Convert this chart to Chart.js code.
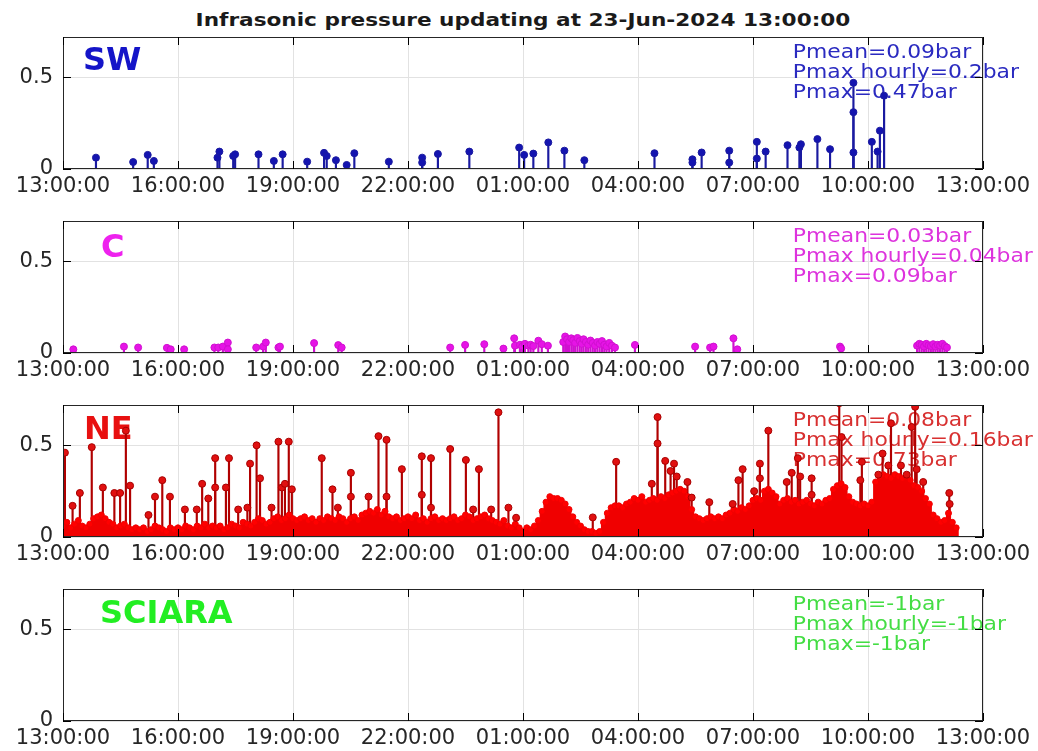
<!DOCTYPE html>
<html>
<head>
<meta charset="utf-8">
<script src="https://cdn.jsdelivr.net/npm/chart.js@4.4.1/dist/chart.umd.min.js"></script>
<style>
  body { margin: 0; background: #fff; width: 1038px; height: 751px; position: relative; overflow: hidden; }
  #title { position: absolute; left: 63px; width: 920px; top: 9px; text-align: center;
           font: bold 18px "DejaVu Sans"; color: #1a1a1a; transform: scaleX(1.2); transform-origin: center; line-height: 22px; }
  canvas { position: absolute; left: 0; }
</style>
</head>
<body>
<div id="title">Infrasonic pressure updating at 23-Jun-2024 13:00:00</div>
<canvas id="swChart" width="1038" height="189" style="top:14px"></canvas>
<canvas id="cChart" width="1038" height="189" style="top:198px"></canvas>
<canvas id="neChart" width="1038" height="189" style="top:382px"></canvas>
<canvas id="sciaraChart" width="1038" height="189" style="top:566px"></canvas>
<script>
// axes ------------------------------------------------------------
const xTickHours = [0, 3, 6, 9, 12, 15, 18, 21, 24];   // hours after 13:00 on 22-Jun
const xTickLabels = ['13:00:00', '16:00:00', '19:00:00', '22:00:00', '01:00:00',
                     '04:00:00', '07:00:00', '10:00:00', '13:00:00'];
const yTickValues = [0, 0.5];
const yTickLabels = ['0', '0.5'];

// SW station (bar) ------------------------------------------------
const swHours = [0.86, 1.83, 2.21, 2.37, 4.03, 4.08, 4.44, 4.49, 5.10, 5.50, 5.73, 6.37, 6.81, 6.88,
  7.12, 7.40, 7.60, 8.50, 9.37, 9.37, 9.78, 10.60, 11.90, 12.03, 12.27, 12.66, 13.08, 13.60, 15.43,
  16.42, 16.42, 16.66, 17.38, 17.38, 18.10, 18.10, 18.33, 18.90, 19.21, 19.25, 19.68, 20.01, 20.62,
  20.62, 20.62, 21.10, 21.25, 21.31, 21.42];
const swValues = [0.062, 0.038, 0.077, 0.044, 0.062, 0.095, 0.071, 0.080, 0.080, 0.044, 0.080, 0.040, 0.088, 0.071,
  0.048, 0.022, 0.086, 0.040, 0.062, 0.035, 0.082, 0.095, 0.117, 0.077, 0.084, 0.145, 0.100, 0.048, 0.086,
  0.053, 0.035, 0.090, 0.100, 0.035, 0.148, 0.057, 0.095, 0.130, 0.117, 0.135, 0.163, 0.108, 0.470,
  0.310, 0.090, 0.148, 0.095, 0.209, 0.400];
const swStats = ['Pmean=0.09bar', 'Pmax hourly=0.2bar', 'Pmax=0.47bar'];

// C station (bar) -------------------------------------------------
const cHours = [0.27, 1.59, 1.96, 2.71, 2.81, 3.16, 3.95, 4.05, 4.17, 4.30,
  4.30, 5.04, 5.22, 5.29, 5.62, 5.66, 6.55, 7.18, 7.27, 10.10,
  10.49, 10.99, 11.49, 11.77, 11.79, 11.92, 11.98, 12.05, 12.14, 12.20,
  12.27, 12.40, 12.49, 12.65, 13.05, 13.10, 13.15, 13.20, 13.26, 13.31,
  13.36, 13.42, 13.48, 13.53, 13.58, 13.64, 13.70, 13.76, 13.82, 13.88,
  13.94, 14.00, 14.06, 14.12, 14.18, 14.25, 14.32, 14.40, 14.92, 16.49,
  16.88, 16.97, 17.49, 17.59, 20.27, 20.30, 22.28, 22.34, 22.40, 22.46,
  22.52, 22.58, 22.64, 22.70, 22.76, 22.82, 22.88, 22.94, 23.00, 23.06];
const cValues = [0.020, 0.035, 0.030, 0.028, 0.020, 0.020, 0.030, 0.030, 0.035, 0.057,
  0.020, 0.030, 0.035, 0.057, 0.030, 0.035, 0.054, 0.043, 0.030, 0.030,
  0.044, 0.048, 0.024, 0.080, 0.040, 0.045, 0.035, 0.050, 0.040, 0.045,
  0.038, 0.067, 0.048, 0.040, 0.060, 0.090, 0.075, 0.060, 0.080, 0.070,
  0.055, 0.082, 0.065, 0.050, 0.075, 0.060, 0.045, 0.068, 0.055, 0.040,
  0.060, 0.050, 0.065, 0.045, 0.035, 0.055, 0.040, 0.030, 0.044, 0.035,
  0.030, 0.035, 0.080, 0.020, 0.035, 0.025, 0.040, 0.050, 0.045, 0.035,
  0.050, 0.042, 0.038, 0.048, 0.035, 0.045, 0.040, 0.050, 0.038, 0.030];
const cStats = ['Pmean=0.03bar', 'Pmax hourly=0.04bar', 'Pmax=0.09bar'];

// NE station (bar) - continuous background level + isolated spikes
const neBaseHours = [
  0.0, 0.1, 0.2, 0.3, 0.4, 0.5, 0.6, 0.7, 0.8, 0.9, 1.0, 1.1, 1.2, 1.3, 1.4, 1.5, 1.6, 1.7, 1.8, 1.9,
  2.0, 2.1, 2.2, 2.3, 2.4, 2.5, 2.6, 2.7, 2.8, 2.9, 3.0, 3.1, 3.2, 3.3, 3.4, 3.5, 3.6, 3.7, 3.8, 3.9,
  4.0, 4.1, 4.2, 4.3, 4.4, 4.5, 4.6, 4.7, 4.8, 4.9, 5.0, 5.1, 5.2, 5.3, 5.4, 5.5, 5.6, 5.7, 5.8, 5.9,
  6.0, 6.1, 6.2, 6.3, 6.4, 6.5, 6.6, 6.7, 6.8, 6.9, 7.0, 7.1, 7.2, 7.3, 7.4, 7.5, 7.6, 7.7, 7.8, 7.9,
  8.0, 8.1, 8.2, 8.3, 8.4, 8.5, 8.6, 8.7, 8.8, 8.9, 9.0, 9.1, 9.2, 9.3, 9.4, 9.5, 9.6, 9.7, 9.8, 9.9,
  10.0, 10.1, 10.2, 10.3, 10.4, 10.5, 10.6, 10.7, 10.8, 10.9, 11.0, 11.1, 11.2, 11.3, 11.4, 11.5, 11.6, 11.7, 11.8, 11.9,
  12.0, 12.1, 12.2, 12.3, 12.4, 12.5, 12.6, 12.7, 12.8, 12.9, 13.0, 13.1, 13.2, 13.3, 13.4, 13.5, 13.6, 13.7, 13.8, 13.9,
  14.0, 14.1, 14.2, 14.3, 14.4, 14.5, 14.6, 14.7, 14.8, 14.9, 15.0, 15.1, 15.2, 15.3, 15.4, 15.5, 15.6, 15.7, 15.8, 15.9,
  16.0, 16.1, 16.2, 16.3, 16.4, 16.5, 16.6, 16.7, 16.8, 16.9, 17.0, 17.1, 17.2, 17.3, 17.4, 17.5, 17.6, 17.7, 17.8, 17.9,
  18.0, 18.1, 18.2, 18.3, 18.4, 18.5, 18.6, 18.7, 18.8, 18.9, 19.0, 19.1, 19.2, 19.3, 19.4, 19.5, 19.6, 19.7, 19.8, 19.9,
  20.0, 20.1, 20.2, 20.3, 20.4, 20.5, 20.6, 20.7, 20.8, 20.9, 21.0, 21.1, 21.2, 21.3, 21.4, 21.5, 21.6, 21.7, 21.8, 21.9,
  22.0, 22.1, 22.2, 22.3, 22.4, 22.5, 22.6, 22.7, 22.8, 22.9, 23.0, 23.1, 23.2, 23.3];
const neBaseValues = [
  0.06, 0.08, 0.05, 0.07, 0.09, 0.06, 0.05, 0.07, 0.10, 0.11, 0.12, 0.10, 0.08, 0.07, 0.05, 0.06, 0.07, 0.05, 0.04, 0.05,
  0.04, 0.05, 0.03, 0.04, 0.06, 0.05, 0.04, 0.03, 0.05, 0.04, 0.05, 0.04, 0.06, 0.05, 0.04, 0.06, 0.05, 0.07, 0.05, 0.06,
  0.05, 0.06, 0.04, 0.05, 0.07, 0.06, 0.05, 0.08, 0.07, 0.06, 0.08, 0.10, 0.09, 0.07, 0.08, 0.10, 0.11, 0.09, 0.10, 0.12,
  0.10, 0.09, 0.10, 0.11, 0.09, 0.10, 0.08, 0.10, 0.09, 0.11, 0.10, 0.09, 0.11, 0.10, 0.08, 0.10, 0.11, 0.09, 0.12, 0.13,
  0.14, 0.13, 0.15, 0.12, 0.14, 0.11, 0.10, 0.11, 0.09, 0.10, 0.11, 0.10, 0.12, 0.09, 0.10, 0.08, 0.10, 0.11, 0.09, 0.10,
  0.09, 0.10, 0.11, 0.09, 0.10, 0.12, 0.11, 0.09, 0.10, 0.11, 0.12, 0.10, 0.09, 0.08, 0.07, 0.09, 0.06, 0.05, 0.07, 0.05,
  0.03, 0.05, 0.04, 0.06, 0.09, 0.14, 0.19, 0.22, 0.21, 0.21, 0.20, 0.18, 0.15, 0.11, 0.08, 0.06, 0.04, 0.03, 0.03, 0.02,
  0.03, 0.08, 0.13, 0.16, 0.17, 0.17, 0.16, 0.18, 0.19, 0.21, 0.20, 0.22, 0.19, 0.20, 0.21, 0.20, 0.22, 0.21, 0.23, 0.24,
  0.25, 0.26, 0.25, 0.22, 0.15, 0.11, 0.10, 0.09, 0.10, 0.11, 0.10, 0.11, 0.10, 0.12, 0.13, 0.15, 0.14, 0.16, 0.15, 0.17,
  0.20, 0.21, 0.20, 0.25, 0.26, 0.24, 0.22, 0.18, 0.20, 0.21, 0.19, 0.20, 0.18, 0.19, 0.20, 0.18, 0.17, 0.19, 0.18, 0.20,
  0.21, 0.26, 0.28, 0.29, 0.27, 0.22, 0.19, 0.18, 0.17, 0.18, 0.17, 0.19, 0.30, 0.33, 0.34, 0.33, 0.32, 0.34, 0.33, 0.32,
  0.33, 0.31, 0.28, 0.27, 0.25, 0.21, 0.18, 0.12, 0.10, 0.08, 0.09, 0.13, 0.08, 0.05];
const neSpikeHours = [0.05, 0.25, 0.44, 0.75, 1.04, 1.34, 1.49, 1.64, 1.75, 2.23,
  2.40, 2.59, 2.79, 3.18, 3.49, 3.63, 3.79, 3.97, 3.97, 4.25,
  4.33, 4.57, 4.81, 4.88, 5.05, 5.14, 5.44, 5.62, 5.71, 5.79,
  5.89, 5.97, 6.75, 7.03, 7.17, 7.51, 7.51, 7.97, 8.23, 8.44,
  8.44, 8.84, 9.36, 9.36, 9.60, 9.60, 10.10, 10.51, 10.70, 10.85,
  11.17, 11.36, 11.62, 11.82, 13.82, 14.43, 15.36, 15.51, 15.51, 15.71,
  15.85, 15.94, 16.01, 16.29, 16.40, 16.86, 17.47, 17.62, 17.73, 18.03,
  18.18, 18.18, 18.40, 18.88, 19.01, 19.17, 19.23, 19.53, 19.53, 20.25,
  20.31, 20.80, 20.84, 21.27, 21.38, 21.53, 21.60, 21.86, 22.01, 22.14,
  22.23, 22.27, 22.44, 23.12, 23.13];
const neSpikeValues = [0.46, 0.17, 0.24, 0.49, 0.27, 0.24, 0.24, 0.58, 0.28, 0.12,
  0.22, 0.31, 0.22, 0.15, 0.15, 0.29, 0.21, 0.43, 0.27, 0.27,
  0.43, 0.15, 0.16, 0.40, 0.50, 0.32, 0.16, 0.52, 0.27, 0.29,
  0.52, 0.26, 0.43, 0.26, 0.16, 0.35, 0.22, 0.22, 0.55, 0.53,
  0.22, 0.37, 0.44, 0.23, 0.43, 0.16, 0.48, 0.42, 0.15, 0.37,
  0.15, 0.68, 0.16, 0.105, 0.107, 0.41, 0.29, 0.654, 0.51, 0.415,
  0.36, 0.40, 0.33, 0.30, 0.215, 0.19, 0.18, 0.31, 0.37, 0.25,
  0.40, 0.32, 0.58, 0.30, 0.35, 0.43, 0.33, 0.32, 0.23, 0.73,
  0.545, 0.31, 0.41, 0.34, 0.455, 0.39, 0.62, 0.39, 0.34, 0.60,
  0.71, 0.37, 0.30, 0.24, 0.18];
const neStats = ['Pmean=0.08bar', 'Pmax hourly=0.16bar', 'Pmax=0.73bar'];

// SCIARA station - no data
const sciaraHours = [];
const sciaraValues = [];
const sciaraStats = ['Pmean=-1bar', 'Pmax hourly=-1bar', 'Pmax=-1bar'];

const statsHour = 19.04;

Chart.defaults.font.family = '"DejaVu Sans"';
Chart.defaults.color = '#262626';

const points = (xs, ys) => xs.map((x, i) => ({ x: x, y: ys[i] }));

// stem = thin bar + round marker on top
function stems(xs, ys, color, edge, thick, radius, order) {
  return [
    { type: 'line', data: points(xs, ys), showLine: false, pointRadius: radius, pointHoverRadius: radius,
      pointBackgroundColor: color, pointBorderColor: edge, pointBorderWidth: 1, order: order },
    { type: 'bar', data: points(xs, ys), backgroundColor: edge, barThickness: thick, grouped: false,
      borderWidth: 0, order: order + 1 }
  ];
}

// labels, stats text, box and inward ticks
const panelDecor = {
  id: 'panelDecor',
  beforeDatasetsDraw(chart, args, o) {
    const { ctx, chartArea: a } = chart;
    ctx.save();
    ctx.fillStyle = o.labelColor;
    ctx.font = 'bold 32px "DejaVu Sans"';
    ctx.textBaseline = 'middle';
    ctx.fillText(o.label, a.left + o.labelDx, a.top + o.labelDy);
    ctx.fillStyle = o.statsColor;
    ctx.font = '19px "DejaVu Sans"';
    ctx.textBaseline = 'alphabetic';
    const sx = chart.scales.x.getPixelForValue(statsHour);
    o.stats.forEach((t, i) => {
      ctx.save();
      ctx.translate(sx, a.top + 21 + i * 20);
      ctx.scale(1.15, 1);
      ctx.fillText(t, 0, 0);
      ctx.restore();
    });
    ctx.restore();
  },
  afterDatasetsDraw(chart) {
    const { ctx, chartArea: a, scales } = chart;
    ctx.save();
    ctx.strokeStyle = '#262626';
    ctx.lineWidth = 1;
    ctx.strokeRect(a.left + 0.5, a.top + 0.5, a.right - a.left - 1, a.bottom - a.top - 1);
    ctx.beginPath();
    xTickHours.forEach(h => {
      const px = Math.round(scales.x.getPixelForValue(h)) + 0.5;
      ctx.moveTo(px, a.bottom); ctx.lineTo(px, a.bottom - 8);
      ctx.moveTo(px, a.top); ctx.lineTo(px, a.top + 8);
    });
    yTickValues.forEach(v => {
      const py = Math.round(scales.y.getPixelForValue(v)) + 0.5;
      ctx.moveTo(a.left, py); ctx.lineTo(a.left + 8, py);
      ctx.moveTo(a.right, py); ctx.lineTo(a.right - 8, py);
    });
    ctx.strokeStyle = '#000';
    ctx.stroke();
    ctx.restore();
  }
};

function drawPanel(id, datasets, decor) {
  return new Chart(document.getElementById(id), {
    type: 'bar',
    data: { datasets: datasets },
    options: {
      responsive: false,
      animation: false,
      layout: { padding: { top: 23, right: 55, left: 0, bottom: 0 } },
      plugins: { legend: { display: false }, tooltip: { enabled: false }, panelDecor: decor },
      scales: {
        x: {
          type: 'linear', min: 0, max: 24, offset: false,
          afterBuildTicks: s => { s.ticks = xTickHours.map(v => ({ value: v })); },
          afterFit: s => { s.height = 34; },
          ticks: { callback: (v, i) => xTickLabels[i], font: { size: 21 }, color: '#262626',
                   padding: 5, maxRotation: 0, autoSkip: false },
          grid: { color: '#E2E2E2', drawTicks: false, offset: false },
          border: { display: false }
        },
        y: {
          min: 0, max: 0.72,
          afterBuildTicks: s => { s.ticks = yTickValues.map(v => ({ value: v })); },
          afterFit: s => { s.width = 63; },
          ticks: { callback: (v, i) => yTickLabels[i], font: { size: 21 }, color: '#262626', padding: 10 },
          grid: { color: '#E2E2E2', drawTicks: false },
          border: { display: false }
        }
      }
    },
    plugins: [panelDecor]
  });
}

drawPanel('swChart', stems(swHours, swValues, '#1414B0', '#1A1AA0', 1.5, 3.5, 0),
  { label: 'SW', labelColor: '#1414C8', labelDx: 20, labelDy: 25, stats: swStats, statsColor: '#2A2AC0' });

drawPanel('cChart', stems(cHours, cValues, '#E614E6', '#D010D0', 1.5, 3.5, 0),
  { label: 'C', labelColor: '#EE22EE', labelDx: 38, labelDy: 28, stats: cStats, statsColor: '#DD33DD' });

drawPanel('neChart',
  [].concat(
    stems(neSpikeHours, neSpikeValues, '#E01010', '#A80000', 1.5, 3.5, 0).slice(0, 1),
    stems(neBaseHours, neBaseValues, '#FF0000', '#F00000', 4.5, 3, 1),
    stems(neSpikeHours, neSpikeValues, '#E01010', '#B00000', 1.5, 3.5, 3).slice(1)
  ),
  { label: 'NE', labelColor: '#E81010', labelDx: 21, labelDy: 26, stats: neStats, statsColor: '#D83030' });

drawPanel('sciaraChart', stems(sciaraHours, sciaraValues, '#22DD22', '#22DD22', 1.5, 3.5, 0),
  { label: 'SCIARA', labelColor: '#22EE22', labelDx: 37, labelDy: 26, stats: sciaraStats, statsColor: '#44DD44' });
</script>
</body>
</html>
